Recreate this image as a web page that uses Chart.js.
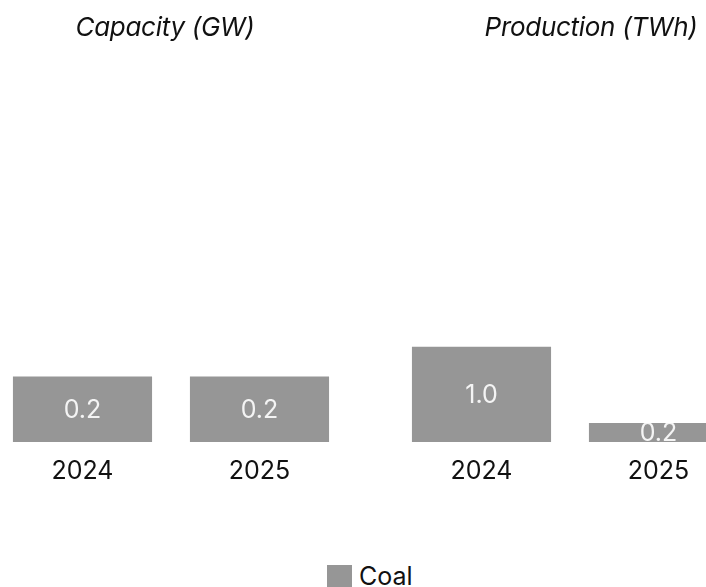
<!DOCTYPE html>
<html>
<head>
<meta charset="utf-8">
<script src="https://cdn.jsdelivr.net/npm/chart.js@4/dist/chart.umd.min.js"></script>
<style>
  html, body { margin: 0; padding: 0; background: #fff; }
  #wrap { position: relative; width: 706px; height: 587px; overflow: hidden; font-family: Inter, "Liberation Sans", sans-serif; }
  .panel { position: absolute; top: 0; width: 354px; height: 500px; }
  #capPanel { left: -6px; }
  #prodPanel { left: 393px; }
  .title { position: absolute; top: 11px; font-style: italic; font-size: 26px; color: #111; white-space: nowrap; transform: translateX(-50%); letter-spacing: -0.3px; }
  #legend { position: absolute; top: 561px; left: 327px; display: flex; align-items: center; font-size: 25px; color: #111; }
  #legend .swatch { width: 25px; height: 23px; margin-right: 7px; }
</style>
</head>
<body>
<div id="wrap">
  <div class="panel" id="capPanel"><canvas id="capChart"></canvas></div>
  <div class="panel" id="prodPanel"><canvas id="prodChart"></canvas></div>
  <div class="title" id="capTitle" style="left:165px">Capacity (GW)</div>
  <div class="title" id="prodTitle" style="left:591px">Production (TWh)</div>
  <div id="legend"></div>
</div>
<script>
// Coal capacity and production by year
const years = ["2024", "2025"];
const seriesName = "Coal";
const capacityGW = [0.2, 0.2];
const productionTWh = [1.0, 0.2];
const capacityAxisMax = 1.35;
const productionAxisMax = 4.64;

const barColor = "#969696";

// White value labels centred in each bar, clipped to the bar itself
const barValueLabels = {
  id: "barValueLabels",
  afterDatasetsDraw(chart) {
    const ctx = chart.ctx;
    chart.data.datasets.forEach((ds, di) => {
      chart.getDatasetMeta(di).data.forEach((bar, i) => {
        const p = bar.getProps(["x", "y", "base", "width"], true);
        const top = Math.min(p.y, p.base), bottom = Math.max(p.y, p.base);
        ctx.save();
        ctx.beginPath();
        ctx.rect(p.x - p.width / 2, top, p.width, bottom - top);
        ctx.clip();
        ctx.fillStyle = "#f4f4f4";
        ctx.font = "25px Inter, 'Liberation Sans', sans-serif";
        ctx.textAlign = "center";
        ctx.textBaseline = "middle";
        ctx.fillText(Number(ds.data[i]).toFixed(1), p.x, (top + bottom) / 2 + 1);
        ctx.restore();
      });
    });
  }
};

function makePanel(canvasId, values, yMax) {
  return new Chart(document.getElementById(canvasId), {
    type: "bar",
    data: {
      labels: years,
      datasets: [{
        label: seriesName,
        data: values,
        backgroundColor: barColor,
        borderWidth: 0,
        categoryPercentage: 1.0,
        barPercentage: 0.786
      }]
    },
    options: {
      responsive: true,
      maintainAspectRatio: false,
      animation: false,
      layout: { padding: 0 },
      plugins: { legend: { display: false }, tooltip: { enabled: false } },
      scales: {
        x: {
          grid: { display: false, drawTicks: false },
          border: { display: false },
          ticks: { color: "#111", padding: 14, font: { family: "Inter, 'Liberation Sans', sans-serif", size: 25 } }
        },
        y: { display: false, min: 0, max: yMax }
      }
    },
    plugins: [barValueLabels]
  });
}

makePanel("capChart", capacityGW, capacityAxisMax);
makePanel("prodChart", productionTWh, productionAxisMax);

// Shared legend for both panels
const legend = document.getElementById("legend");
const sw = document.createElement("span");
sw.className = "swatch";
sw.style.background = barColor;
const lbl = document.createElement("span");
lbl.textContent = seriesName;
legend.appendChild(sw);
legend.appendChild(lbl);
</script>
</body>
</html>
